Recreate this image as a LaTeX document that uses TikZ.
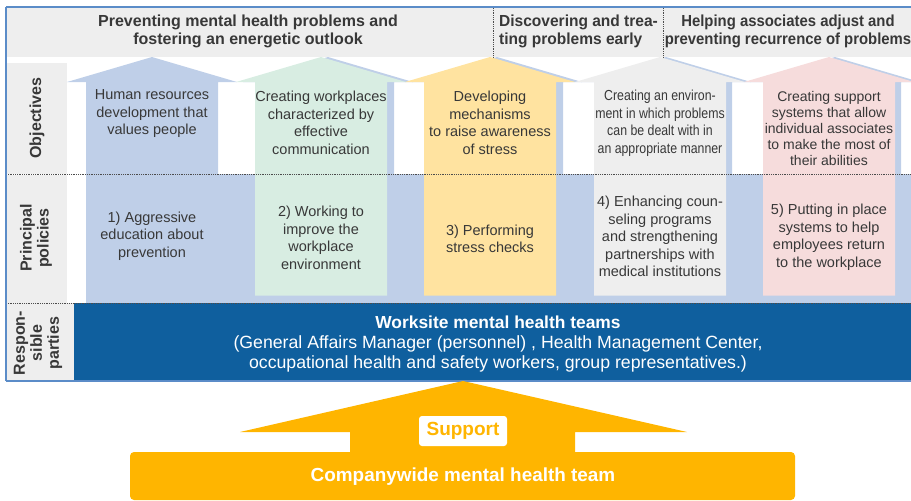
\documentclass[tikz,border=0pt]{standalone}
\usepackage{fontspec}
\setmainfont{Liberation Sans}
\definecolor{hdrgray}{HTML}{EEEEEE}
\definecolor{abblue}{HTML}{BFCFE8}
\definecolor{abgreen}{HTML}{D8EDE2}
\definecolor{abyellow}{HTML}{FFE3A0}
\definecolor{abgray}{HTML}{EEEEEE}
\definecolor{abpink}{HTML}{F6DCDC}
\definecolor{darkband}{HTML}{0F5F9E}
\definecolor{orangeA}{HTML}{FFB500}
\definecolor{framec}{HTML}{5B8CC8}
\definecolor{txt}{HTML}{383838}
\newcommand{\colarrow}[3]{\fill[#3] (#1-66,#2) -- (#1-66,82) -- (#1-85,82) -- (#1,57) -- (#1+85,82) -- (#1+66,82) -- (#1+66,#2) -- cycle;}
\begin{document}
\begin{tikzpicture}[x=1pt,y=-1pt,
  hdr/.style={font=\fontsize{16}{18}\selectfont\bfseries, text=txt, align=center, inner sep=0pt},
  body/.style={font=\fontsize{14.5}{17.5}\selectfont, text=txt, align=center, inner sep=0pt},
  lab/.style={font=\fontsize{16}{17}\selectfont\bfseries, text=txt, align=center, rotate=90, inner sep=0pt},
  dots/.style={densely dotted, line width=0.8pt, draw=black!70},
  framel/.style={draw=framec, line width=1.2pt}]
\useasboundingbox (0,0) rectangle (911,501);
% header band
\fill[hdrgray] (6,8) rectangle (911,57);
% label boxes
\fill[hdrgray] (6,63) rectangle (67,174);
\fill[hdrgray] (6,175) rectangle (67,303);
\fill[hdrgray] (6,303) rectangle (74,380);
% blue shadows
\foreach \c in {328,497,666,835}{\colarrow{\c}{175}{abblue}}
% blue band
\fill[abblue] (87,174) rectangle (911,303);
% arrows
\colarrow{152}{303}{abblue}
\colarrow{321}{295.5}{abgreen}
\colarrow{490}{295.5}{abyellow}
\colarrow{660}{295.5}{abgray}
\colarrow{829}{295.5}{abpink}
% dark band
\fill[darkband] (74,303) rectangle (911,380);
% dotted lines
\draw[dots] (6,174) -- (911,174);
\draw[dots] (6,303) -- (911,303);
\draw[dots] (493,8) -- (493,57);
\draw[dots] (663,8) -- (663,57);
% frame
\draw[framel] (6,7) -- (911,7);
\draw[framel] (6,7) -- (6,381);
\draw[framel] (6,381) -- (911,381);
% header texts
\node[hdr] (h1) at (248,31) {Preventing mental health problems and\\fostering an energetic outlook};
\node[hdr, anchor=west, align=left, xscale=0.97] (h2) at (499,31) {Discovering and trea-\\ting problems early};
\node[hdr, xscale=0.93] (h3) at (788,31) {Helping associates adjust and\\preventing recurrence of problems};
% row labels
\node[lab] (lo) at (37,118) {Objectives};
\node[lab] (lp) at (36,238) {Principal\\policies};
\node[lab] (lr) at (38,343) {Respon-\\sible\\parties};
% objectives
\node[body] (o1) at (152,114) {Human resources\\development that\\values people};
\node[body] (o2) at (321,123) {Creating workplaces\\characterized by\\effective\\communication};
\node[body] (o3) at (490,123) {Developing\\mechanisms\\to raise awareness\\of stress};
\node[body, xscale=0.85] (o4) at (660,123) {Creating an environ-\\ment in which problems\\can be dealt with in\\an appropriate manner};
\node[body, font=\fontsize{14}{16}\selectfont] (o5) at (829,128) {Creating support\\systems that allow\\individual associates\\to make the most of\\their abilities};
% policies
\node[body] (p1) at (152,236) {1) Aggressive\\education about\\prevention};
\node[body] (p2) at (321,238) {2) Working to\\improve the\\workplace\\environment};
\node[body] (p3) at (490,239) {3) Performing\\stress checks};
\node[body] (p4) at (660,236.5) {4) Enhancing coun-\\seling programs\\and strengthening\\partnerships with\\medical institutions};
\node[body] (p5) at (829,237) {5) Putting in place\\systems to help\\employees return\\to the workplace};
% worksite teams
\node[text=white, align=center, inner sep=0pt, font=\fontsize{17.7}{20}\selectfont] (wt) at (498,344) {{\fontsize{17.4}{20}\selectfont\bfseries Worksite mental health teams}\\(General Affairs Manager (personnel) , Health Management Center,\\occupational health and safety workers, group representatives.)};
% companywide arrow
\fill[orangeA, rounded corners=4pt] (130,452) rectangle (795,500);
\fill[orangeA] (350,455) -- (350,432) -- (240,432) -- (463,381) -- (687,432) -- (575,432) -- (575,455) -- cycle;
\node[fill=white, rounded corners=3pt, text=orangeA, font=\fontsize{19}{20}\selectfont\bfseries, minimum width=88pt, minimum height=30pt, inner sep=0pt] (sup) at (463,431) {Support};
\node[text=white, font=\fontsize{18.9}{20}\selectfont\bfseries, inner sep=0pt] (cw) at (463,477) {Companywide mental health team};
\end{tikzpicture}
\end{document}
